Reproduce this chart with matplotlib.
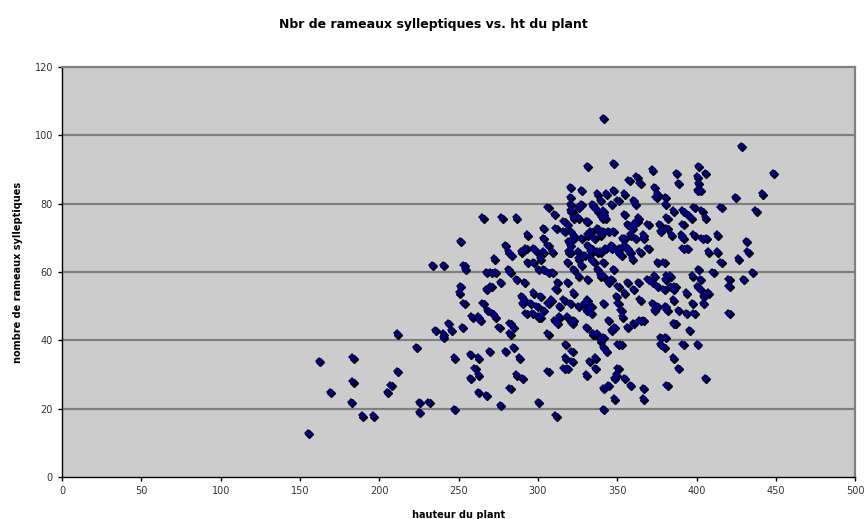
"""
    Nuage de points : nombre de rameaux sylleptiques vs. hauteur du plant
"""
# Modules:
import matplotlib
matplotlib.use("Agg")
import matplotlib.pyplot as plt
import matplotlib.transforms as mtransforms

# Data:
# region x < 257
hauteur_a = [155, 162, 169, 183, 183, 182, 189, 196, 205, 207, 211, 211, 223, 225, 231, 225,
             233, 240, 235, 240, 243, 245, 240, 252, 247, 247, 251, 253, 254, 251, 250, 253]
rameaux_a = [13, 34, 25, 35, 28, 22, 18, 18, 25, 27, 31, 42, 38, 22, 22, 19,
             62, 62, 43, 42, 45, 43, 41, 44, 35, 20, 69, 62, 61, 56, 54, 51]

# region 257 <= x < 314
hauteur_b = [257, 262, 260, 262, 257, 262, 267, 258, 262, 263, 265, 268, 271, 273, 275, 267,
             270, 276, 269, 279, 284, 288, 282, 284, 282, 286, 290, 282, 306, 306, 291, 295,
             299, 303, 296, 301, 289, 301, 306, 310, 312,
             272, 267, 270, 273, 281, 282, 286, 291, 293, 297, 300, 303, 306, 309, 312, 311,
             297, 290, 308, 313, 292, 300, 313, 300, 276, 311,
             265, 277, 286, 306, 310, 303, 311, 293, 303, 306, 279, 281, 283, 289, 292, 297,
             299, 303, 309, 301]
rameaux_b = [36, 35, 32, 30, 29, 25, 24, 47, 47, 46, 51, 49, 48, 47, 44, 55,
             56, 57, 37, 37, 38, 35, 45, 44, 42, 30, 29, 26, 42, 31, 52, 51,
             50, 49, 48, 47, 53, 53, 51, 46, 45,
             64, 60, 60, 60, 61, 60, 58, 57, 63, 63, 61, 61, 60, 60, 57, 55,
             54, 51, 52, 50, 48, 47, 47, 22, 21, 18,
             76, 76, 76, 79, 77, 73, 73, 71, 70, 68, 68, 66, 65, 66, 67, 67,
             66, 66, 66, 64]

# region 314 <= x < 371
hauteur_c = [341, 331, 347, 357, 362, 364, 320, 327, 337, 343, 347, 354, 320, 320, 327, 334,
             335, 339, 346, 350, 360, 361, 320, 325, 331, 341, 342, 354, 356, 363, 360, 369,
             318, 320, 322, 327, 331, 337, 341, 347, 354, 358, 366, 319, 333, 346, 356, 369,
             321, 325, 337, 341, 340, 359, 362, 316, 322, 316, 322, 330, 333, 335, 339, 344,
             353, 361, 366, 320, 325, 318, 329, 333, 339, 351, 352, 357, 359, 364, 335, 341,
             347,
             319, 320, 325, 331, 337, 342, 346, 350, 354, 358, 322, 327, 333, 337, 341, 346,
             350, 354, 356, 360, 364, 316, 320, 325, 329, 333, 318, 321, 330, 335, 337, 330,
             333, 344, 348, 346, 353, 356, 360, 364, 341, 341, 343, 350, 350, 352, 317, 321,
             317, 321, 316, 318, 332, 336, 336, 330, 350, 349, 354, 358, 341, 344, 366, 366,
             341,
             318, 325, 331, 339, 344, 363, 369, 322, 331, 341, 349, 322, 366, 334, 339, 352,
             348, 348]
rameaux_c = [105, 91, 92, 87, 88, 86, 85, 84, 83, 83, 84, 83, 82, 80, 80, 80,
             79, 81, 80, 81, 81, 80, 78, 76, 75, 77, 76, 77, 74, 76, 74, 74,
             74, 72, 71, 70, 71, 73, 72, 72, 70, 71, 70, 69, 67, 67, 67, 67,
             78, 79, 78, 78, 76, 73, 75, 75, 76, 72, 70, 75, 72, 70, 71, 72,
             70, 70, 71, 66, 64, 63, 65, 66, 66, 67, 65, 66, 64, 66, 63, 63,
             61,
             66, 68, 66, 68, 66, 67, 68, 66, 68, 66, 61, 62, 64, 61, 59, 58,
             56, 54, 57, 55, 52, 52, 51, 50, 51, 50, 47, 45, 44, 42, 42, 49,
             48, 46, 44, 43, 47, 44, 45, 46, 41, 38, 37, 39, 51, 49, 39, 37,
             35, 34, 32, 32, 34, 35, 32, 30, 32, 30, 29, 27, 26, 27, 26, 23,
             20,
             57, 59, 58, 59, 57, 57, 58, 54, 52, 51, 53, 46, 46, 42, 40, 39,
             23, 29]

# region 371 <= x < 415
hauteur_d = [372, 387, 388, 401, 405, 400, 401, 402, 400, 373, 375, 374, 380, 380, 385, 391,
             394, 396, 398, 403, 405, 381, 376, 377, 381, 384, 391, 390, 391, 391, 394, 398,
             403, 406, 413, 413, 407, 401, 410, 375, 379, 383, 380, 373, 372, 397, 402, 400,
             402, 407, 404, 375, 379, 383, 385, 372, 373, 380, 381, 385, 388, 393, 397, 404,
             393, 398, 385, 395, 400, 377, 377, 380, 391, 385, 388, 405, 381, 386, 381, 379,
             386, 375]
rameaux_d = [90, 89, 86, 91, 89, 88, 86, 84, 84, 85, 83, 82, 82, 80, 78, 78,
             77, 76, 79, 78, 76, 76, 74, 72, 73, 71, 74, 71, 70, 67, 67, 71,
             70, 70, 71, 66, 66, 61, 60, 63, 63, 59, 58, 59, 57, 59, 58, 56,
             55, 54, 53, 56, 55, 56, 55, 51, 49, 50, 49, 52, 49, 54, 51, 51,
             48, 48, 45, 43, 39, 41, 39, 41, 39, 35, 32, 29, 27, 56, 59, 38,
             45, 50]

# region x >= 415
hauteur_e = [415, 428, 448, 424, 441, 437, 431, 432, 426, 415, 420, 429, 435, 420, 420]
rameaux_e = [79, 97, 89, 82, 83, 78, 69, 66, 64, 63, 58, 58, 60, 56, 48]

hauteur = hauteur_a + hauteur_b + hauteur_c + hauteur_d + hauteur_e
rameaux = rameaux_a + rameaux_b + rameaux_c + rameaux_d + rameaux_e

x_ticks = list(range(0, 501, 50))
y_ticks = list(range(0, 121, 20))

# Figure:
fig = plt.figure(figsize=(8.66, 5.19), dpi=100)
ax = fig.add_axes([0.0716, 0.081, 0.916, 0.790])
ax.set_facecolor("#cccccc")

# Horizontal grid lines:
for yv in y_ticks[1:-1]:
    ax.axhline(yv, color="#808080", linewidth=1.6, zorder=1)

# Shadow then navy diamonds:
shadow = mtransforms.offset_copy(ax.transData, fig=fig, x=0.9, y=-0.9, units="points")
ax.plot(hauteur, rameaux, linestyle="none", marker="D", markersize=4.0,
        color="black", transform=shadow, zorder=2)
ax.plot(hauteur, rameaux, linestyle="none", marker="D", markersize=4.0,
        color="#000080", markeredgewidth=0, zorder=3)

# Axes:
ax.set_xlim(0, 500)
ax.set_ylim(0, 120)
ax.set_xticks(x_ticks)
ax.set_yticks(y_ticks)
ax.tick_params(labelsize=7, length=3, width=1, color="black", labelcolor="#333333")
for side in ["top", "right"]:
    ax.spines[side].set_color("#808080")
    ax.spines[side].set_linewidth(1.6)
for side in ["left", "bottom"]:
    ax.spines[side].set_color("black")
    ax.spines[side].set_linewidth(1.0)

# Title and labels:
fig.suptitle("Nbr de rameaux sylleptiques vs. ht du plant", fontsize=9, fontweight="bold", y=0.965)
ax.set_xlabel("hauteur du plant", fontsize=7, fontweight="bold", labelpad=10)
ax.set_ylabel("nombre de rameaux sylleptiques", fontsize=7, fontweight="bold", labelpad=8)

fig.savefig("out.png", dpi=100)
